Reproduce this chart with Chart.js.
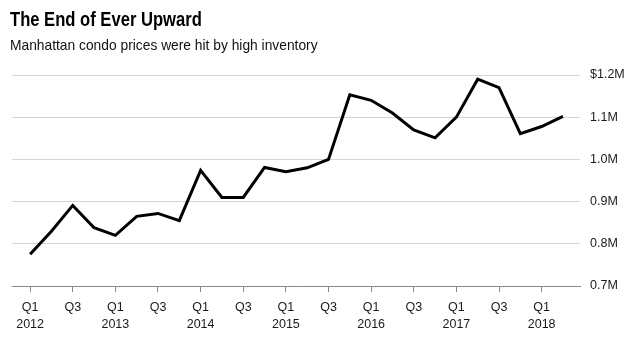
<!DOCTYPE html>
<html>
<head>
<meta charset="utf-8">
<script src="https://cdn.jsdelivr.net/npm/chart.js@4/dist/chart.umd.min.js"></script>
<style>
  html, body { margin: 0; padding: 0; background: #fff; }
  #wrap { position: relative; width: 632px; height: 341px; overflow: hidden; }
  #chart { position: absolute; left: 0; top: 0; }
  .title { position: absolute; left: 10px; top: 9px; font: bold 20px "Liberation Sans", Arial, sans-serif; line-height: 20px; color: #000; white-space: nowrap; transform-origin: 0 0; transform: scaleX(0.83); }
  .subtitle { position: absolute; left: 10px; top: 36.5px; font: 15px "Liberation Sans", Arial, sans-serif; line-height: 15px; color: #111; white-space: nowrap; transform-origin: 0 0; transform: scaleX(0.92); }
</style>
</head>
<body>
<div id="wrap">
  <canvas id="chart" width="632" height="341"></canvas>
  <div class="title">The End of Ever Upward</div>
  <div class="subtitle">Manhattan condo prices were hit by high inventory</div>
</div>
<script>
// Quarterly categories, Q1 2012 .. Q2 2018
const quarters = [
  'Q1 2012','Q2 2012','Q3 2012','Q4 2012',
  'Q1 2013','Q2 2013','Q3 2013','Q4 2013',
  'Q1 2014','Q2 2014','Q3 2014','Q4 2014',
  'Q1 2015','Q2 2015','Q3 2015','Q4 2015',
  'Q1 2016','Q2 2016','Q3 2016','Q4 2016',
  'Q1 2017','Q2 2017','Q3 2017','Q4 2017',
  'Q1 2018','Q2 2018'
];
// Median Manhattan condo price, $ millions
const prices = [
  0.775, 0.830, 0.891, 0.838,
  0.820, 0.865, 0.872, 0.855,
  0.974, 0.910, 0.910, 0.981,
  0.971, 0.980, 1.000, 1.153,
  1.140, 1.110, 1.070, 1.051,
  1.100, 1.190, 1.170, 1.061,
  1.078, 1.102
];
// X tick positions (quarter index) and their labels
const xTickIndex = [0, 2, 4, 6, 8, 10, 12, 14, 16, 18, 20, 22, 24];
const xTickLabels = [
  ['Q1','2012'], 'Q3', ['Q1','2013'], 'Q3', ['Q1','2014'], 'Q3',
  ['Q1','2015'], 'Q3', ['Q1','2016'], 'Q3', ['Q1','2017'], 'Q3', ['Q1','2018']
];
// Y ticks
const yTicks = [0.7, 0.8, 0.9, 1.0, 1.1, 1.2];
const yTickLabels = ['0.7M', '0.8M', '0.9M', '1.0M', '1.1M', '$1.2M'];

const points = prices.map((v, i) => ({ x: i, y: v }));
const FONT = '"Liberation Sans", Arial, sans-serif';

new Chart(document.getElementById('chart'), {
  type: 'line',
  data: {
    datasets: [{
      data: points,
      borderColor: '#000',
      borderWidth: 3,
      pointRadius: 0,
      tension: 0,
      borderJoinStyle: 'miter',
      borderCapStyle: 'butt',
      fill: false
    }]
  },
  options: {
    responsive: false,
    animation: false,
    devicePixelRatio: 1,
    layout: { padding: { left: 12, top: 75, right: 0, bottom: 0 } },
    plugins: { legend: { display: false }, tooltip: { enabled: false } },
    scales: {
      x: {
        type: 'linear',
        min: -0.85,
        max: 25.8,
        afterBuildTicks: (s) => { s.ticks = xTickIndex.map(v => ({ value: v })); },
        afterFit: (s) => { s.height = 55; },
        grid: { display: true, drawOnChartArea: false, drawTicks: true, tickLength: 6, color: '#888', lineWidth: 1 },
        border: { display: true, color: '#888', width: 1 },
        ticks: {
          autoSkip: false,
          maxRotation: 0,
          padding: 7,
          color: '#1a1a1a',
          font: { family: FONT, size: 12.5, lineHeight: 1.36 },
          callback: (v) => { const k = xTickIndex.indexOf(v); return k >= 0 ? xTickLabels[k] : ''; }
        }
      },
      y: {
        position: 'right',
        min: 0.7,
        max: 1.2,
        afterBuildTicks: (s) => { s.ticks = yTicks.map(v => ({ value: v })); },
        afterFit: (s) => { s.width = 52; },
        grid: { color: '#d4d4d4', lineWidth: 1, drawTicks: false },
        border: { display: false },
        ticks: {
          padding: 10,
          color: '#1a1a1a',
          font: { family: FONT, size: 12.5 },
          callback: (v) => { const k = yTicks.findIndex(t => Math.abs(t - v) < 1e-6); return k >= 0 ? yTickLabels[k] : ''; }
        }
      }
    }
  }
});
</script>
</body>
</html>
